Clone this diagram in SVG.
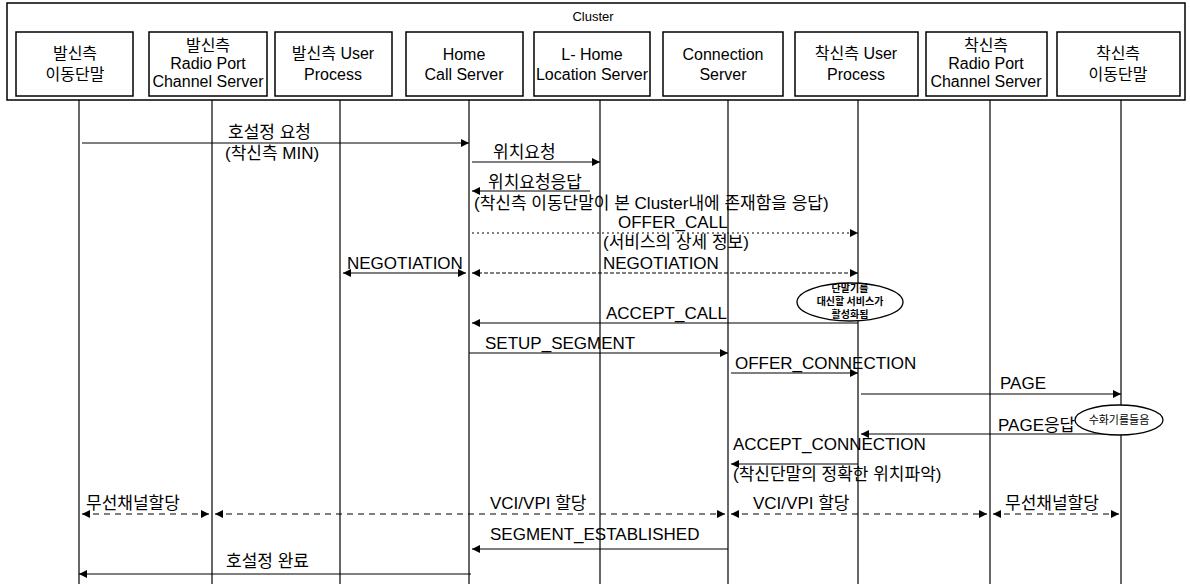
<svg xmlns="http://www.w3.org/2000/svg" width="1190" height="584" viewBox="0 0 1190 584">
<defs>
<marker id="ah" viewBox="0 0 10 10" refX="10" refY="5" markerWidth="11" markerHeight="8" markerUnits="userSpaceOnUse" orient="auto-start-reverse">
<path d="M0,0 L10,5 L0,10 z" fill="#000"/>
</marker>
<style>
.box{fill:#fff;stroke:#000;stroke-width:1.5}
.lbl{font-family:"Liberation Sans","Noto Sans CJK KR",Arial,sans-serif;font-size:17px;fill:#000}
.nl{font-family:"Liberation Sans","Noto Sans CJK KR",Arial,sans-serif;font-size:16px;fill:#000;text-anchor:middle}
.life{stroke:#000;stroke-width:1.2;fill:none}
.msg{stroke:#000;stroke-width:1.2;fill:none}
.dot{stroke:#000;stroke-width:1.2;fill:none;stroke-dasharray:2,3}
.dash{stroke:#000;stroke-width:1.2;fill:none;stroke-dasharray:6,5}
.fdash{stroke:#000;stroke-width:1.2;fill:none;stroke-dasharray:4,2}
.note{fill:#fff;stroke:#000;stroke-width:1.3}
.nt{font-family:"Noto Sans CJK KR","Liberation Sans",sans-serif;font-size:10px;font-weight:bold;fill:#000;text-anchor:middle}
</style>
</defs>
<rect width="1190" height="584" fill="#fff"/>
<g id="cluster">
<rect x="7" y="3" width="1178" height="97" fill="none" stroke="#000" stroke-width="1.5"/>
<text x="593" y="21" class="nl" style="font-size:13px">Cluster</text>
</g>
<g id="lifelines">
<line class="life" x1="79" y1="100" x2="79" y2="584"/>
<line class="life" x1="212" y1="100" x2="212" y2="584"/>
<line class="life" x1="340" y1="100" x2="340" y2="584"/>
<line class="life" x1="469" y1="100" x2="469" y2="584"/>
<line class="life" x1="600" y1="100" x2="600" y2="584"/>
<line class="life" x1="728" y1="100" x2="728" y2="584"/>
<line class="life" x1="858" y1="100" x2="858" y2="584"/>
<line class="life" x1="990" y1="100" x2="990" y2="584"/>
<line class="life" x1="1121" y1="100" x2="1121" y2="584"/>
</g>
<g id="n1"><rect class="box" x="16" y="32" width="117" height="64"/><text class="nl" x="75" y="59">발신측</text><text class="nl" x="75" y="80">이동단말</text></g>
<g id="n2"><rect class="box" x="149" y="32" width="118" height="64"/><text class="nl" x="208" y="51">발신측</text><text class="nl" x="208" y="69">Radio Port</text><text class="nl" x="208" y="87">Channel Server</text></g>
<g id="n3"><rect class="box" x="275" y="32" width="117" height="64"/><text class="nl" x="333" y="59">발신측 User</text><text class="nl" x="333" y="80">Process</text></g>
<g id="n4"><rect class="box" x="406" y="32" width="117" height="64"/><text class="nl" x="464" y="60">Home</text><text class="nl" x="464" y="80">Call Server</text></g>
<g id="n5"><rect class="box" x="534" y="32" width="116" height="64"/><text class="nl" x="592" y="60">L- Home</text><text class="nl" x="592" y="80">Location Server</text></g>
<g id="n6"><rect class="box" x="663" y="32" width="120" height="64"/><text class="nl" x="723" y="60">Connection</text><text class="nl" x="723" y="80">Server</text></g>
<g id="n7"><rect class="box" x="795" y="32" width="123" height="64"/><text class="nl" x="856" y="59">착신측 User</text><text class="nl" x="856" y="80">Process</text></g>
<g id="n8"><rect class="box" x="926" y="32" width="121" height="64"/><text class="nl" x="986" y="51">착신측</text><text class="nl" x="986" y="69">Radio Port</text><text class="nl" x="986" y="87">Channel Server</text></g>
<g id="n9"><rect class="box" x="1057" y="32" width="123" height="64"/><text class="nl" x="1118" y="59">착신측</text><text class="nl" x="1118" y="80">이동단말</text></g>
<g id="connectors">
<line class="msg" x1="82" y1="143" x2="469" y2="143" marker-end="url(#ah)"/>
<line class="msg" x1="472" y1="162" x2="600" y2="162" marker-end="url(#ah)"/>
<line class="msg" x1="590" y1="191" x2="472" y2="191" marker-end="url(#ah)"/>
<line class="dot" x1="472" y1="233" x2="858" y2="233" marker-end="url(#ah)"/>
<line class="msg" x1="343" y1="273" x2="466" y2="273" marker-start="url(#ah)" marker-end="url(#ah)"/>
<line class="fdash" x1="472" y1="273" x2="858" y2="273" marker-start="url(#ah)" marker-end="url(#ah)"/>
<line class="msg" x1="858" y1="323" x2="472" y2="323" marker-end="url(#ah)"/>
<line class="msg" x1="469" y1="353" x2="728" y2="353" marker-end="url(#ah)"/>
<line class="msg" x1="731" y1="373" x2="858" y2="373" marker-end="url(#ah)"/>
<line class="msg" x1="861" y1="394" x2="1121" y2="394" marker-end="url(#ah)"/>
<line class="msg" x1="1121" y1="434" x2="861" y2="434" marker-end="url(#ah)"/>
<line class="msg" x1="858" y1="464" x2="731" y2="464" marker-end="url(#ah)"/>
<line class="dash" x1="82" y1="514" x2="209" y2="514" marker-start="url(#ah)" marker-end="url(#ah)"/>
<line class="dash" x1="215" y1="514" x2="725" y2="514" marker-start="url(#ah)" marker-end="url(#ah)"/>
<line class="dash" x1="731" y1="514" x2="987" y2="514" marker-start="url(#ah)" marker-end="url(#ah)"/>
<line class="dash" x1="993" y1="514" x2="1119" y2="514" marker-start="url(#ah)" marker-end="url(#ah)"/>
<line class="msg" x1="728" y1="549" x2="472" y2="549" marker-end="url(#ah)"/>
<line class="msg" x1="471" y1="574" x2="79" y2="574" marker-end="url(#ah)"/>
</g>
<g id="labels">
<text class="lbl" x="228" y="138">호설정 요청</text>
<text class="lbl" x="225" y="159">(착신측 MIN)</text>
<text class="lbl" x="493" y="158">위치요청</text>
<text class="lbl" x="488" y="188">위치요청응답</text>
<text class="lbl" x="474" y="209">(착신측 이동단말이 본 Cluster내에 존재함을 응답)</text>
<text class="lbl" x="618" y="228">OFFER_CALL</text>
<text class="lbl" x="603" y="248">(서비스의 상세 정보)</text>
<text class="lbl" x="347" y="269">NEGOTIATION</text>
<text class="lbl" x="603" y="269">NEGOTIATION</text>
<text class="lbl" x="606" y="319">ACCEPT_CALL</text>
<text class="lbl" x="485" y="349">SETUP_SEGMENT</text>
<text class="lbl" x="735" y="369">OFFER_CONNECTION</text>
<text class="lbl" x="1000" y="389">PAGE</text>
<text class="lbl" x="998" y="431">PAGE응답</text>
<text class="lbl" x="733" y="450">ACCEPT_CONNECTION</text>
<text class="lbl" x="733" y="480">(착신단말의 정확한 위치파악)</text>
<text class="lbl" x="86" y="509">무선채널할당</text>
<text class="lbl" x="490" y="509">VCI/VPI 할당</text>
<text class="lbl" x="753" y="509">VCI/VPI 할당</text>
<text class="lbl" x="1005" y="509">무선채널할당</text>
<text class="lbl" x="490" y="540">SEGMENT_ESTABLISHED</text>
<text class="lbl" x="226" y="567">호설정 완료</text>
</g>
<g id="note1">
<ellipse class="note" cx="850" cy="302" rx="53" ry="19"/>
<text class="nt" x="850" y="292">단말기를</text>
<text class="nt" x="850" y="305">대신할 서비스가</text>
<text class="nt" x="850" y="318">활성화됨</text>
</g>
<g id="note2">
<ellipse class="note" cx="1119" cy="420" rx="44" ry="15"/>
<text class="nt" x="1119" y="424" style="font-size:11px;font-weight:normal">수화기를들음</text>
</g>
</svg>
